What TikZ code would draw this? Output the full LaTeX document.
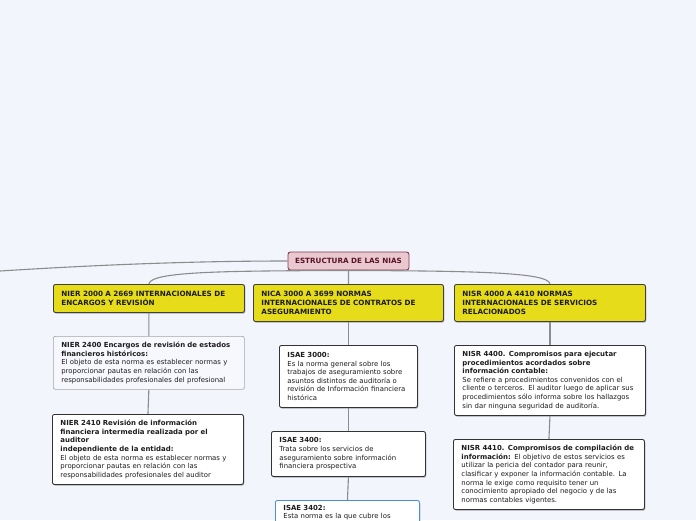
\documentclass[tikz,border=0pt]{standalone}
\usepackage{fontspec}
\setmainfont{DejaVu Sans}
\usetikzlibrary{shadows}
\definecolor{bgc}{HTML}{F3F5FD}
\definecolor{yel}{HTML}{E6DC1A}
\definecolor{rootfill}{HTML}{E9C8D0}
\definecolor{rootdraw}{HTML}{86394D}
\definecolor{roottext}{HTML}{5A1327}
\definecolor{linec}{HTML}{8C8C8C}
\definecolor{bluec}{HTML}{4A8FDB}
\definecolor{txt}{HTML}{1C1C1C}
\newcommand{\fs}{\fontsize{6.9}{8.6}\selectfont}
\newcommand{\hb}[1]{{\fontsize{6.95}{8.6}\selectfont\bfseries #1}}
\newcommand{\capsb}{\fontsize{7.2}{8.6}\selectfont\bfseries}
\tikzset{
  card/.style={draw=black!80, line width=0.9pt, rounded corners=2pt, fill=white,
    align=left, inner xsep=8pt, inner ysep=3pt, anchor=north west, font=\fs, text=txt,
    drop shadow={shadow xshift=0.8pt, shadow yshift=-1.2pt, opacity=0.3, fill=black}},
  ycard/.style={card, fill=yel, draw=black!75, font=\capsb},
  pale/.style={draw=black!35, line width=0.7pt, rounded corners=2pt, fill=bgc!70!white,
    align=left, inner xsep=8pt, inner ysep=3pt, anchor=north west, font=\fs, text=txt},
  conn/.style={draw=linec, line width=1.1pt}
}
\begin{document}
\begin{tikzpicture}[x=1pt,y=-1pt]
\useasboundingbox (0,0) rectangle (696,520);
\fill[bgc] (0,0) rectangle (696,520);
\clip (0,0) rectangle (696,520);

\node[draw=rootdraw, line width=0.9pt, fill=rootfill, rounded corners=2.5pt, text=roottext,
  font=\capsb, minimum width=121pt, minimum height=18pt, inner sep=1pt] (root) at (348.5,261) {ESTRUCTURA DE LAS NIAS};

\node[ycard, text width=175pt, minimum height=28pt] (y1) at (53,284)
  {NIER 2000 A 2669 INTERNACIONALES DE\\ENCARGOS Y REVISIÓN};
\node[ycard, text width=174pt, minimum height=37pt] (y2) at (253,284)
  {NICA 3000 A 3699 NORMAS\\INTERNACIONALES DE CONTRATOS DE\\ASEGURAMIENTO};
\node[ycard, text width=175pt, minimum height=37pt] (y3) at (454,284)
  {NISR 4000 A 4410 NORMAS\\INTERNACIONALES DE SERVICIOS\\RELACIONADOS};

\node[pale, text width=175pt, minimum height=53pt] (n2400) at (53,336)
  {\hb{NIER 2400 Encargos de revisión de estados}\\\hb{financieros históricos:}\\El objeto de esta norma es establecer normas y\\proporcionar pautas en relación con las\\responsabilidades profesionales del profesional};
\node[card, text width=175pt, minimum height=70pt] (n2410) at (52,414)
  {\hb{NIER 2410 Revisión de información}\\\hb{financiera intermedia realizada por el}\\\hb{auditor}\\\hb{independiente de la entidad:}\\El objeto de esta norma es establecer normas y\\proporcionar pautas en relación con las\\responsabilidades profesionales del auditor};

\node[card, text width=122pt, minimum height=62pt] (i3000) at (279,345)
  {\hb{ISAE 3000:}\\Es la norma general sobre los\\trabajos de aseguramiento sobre\\asuntos distintos de auditoría o\\revisión de Información financiera\\histórica};
\node[card, text width=138pt, minimum height=45pt] (i3400) at (271,431)
  {\hb{ISAE 3400:}\\Trata sobre los servicios de\\aseguramiento sobre información\\financiera prospectiva};
\node[card, draw=bluec, text width=128pt, minimum height=24pt, inner ysep=4pt] (i3402) at (275,500)
  {\hb{ISAE 3402:}\\Esta norma es la que cubre los};

\node[card, text width=175pt, minimum height=70pt] (s4400) at (454,345)
  {\hb{NISR 4400. Compromisos para ejecutar}\\\hb{procedimientos acordados sobre}\\\hb{información contable:}\\Se refiere a procedimientos convenidos con el\\cliente o terceros. El auditor luego de aplicar sus\\procedimientos sólo informa sobre los hallazgos\\sin dar ninguna seguridad de auditoría.};
\node[card, text width=175pt, minimum height=70pt] (s4410) at (453,439)
  {\hb{NISR 4410. Compromisos de compilación de}\\\hb{información:} El objetivo de estos servicios es\\utilizar la pericia del contador para reunir,\\clasificar y exponer la información contable. La\\norma le exige como requisito tener un\\conocimiento apropiado del negocio y de las\\normas contables vigentes.};

\coordinate (edge) at (0,271);
\draw[conn] (root.west) .. controls (180,261) and (80,266) .. (edge);
\draw[conn] (root.south) .. controls (230,271) and (150,271) .. (y1.north);
\draw[conn] (root.south) .. controls (470,271) and (549,272) .. (y3.north);
\draw[conn] (root.south) -- (y2.north);

\draw[conn] (y1.south) -- (n2400.north);
\draw[conn] (n2400.south) -- (n2410.north);
\draw[conn] (y2.south) -- (i3000.north);
\draw[conn] (i3000.south) -- (i3400.north);
\draw[conn] (i3400.south) -- (i3402.north);
\draw[conn] (y3.south) -- (s4400.north);
\draw[conn] (s4400.south) -- (s4410.north);
\end{tikzpicture}
\end{document}
